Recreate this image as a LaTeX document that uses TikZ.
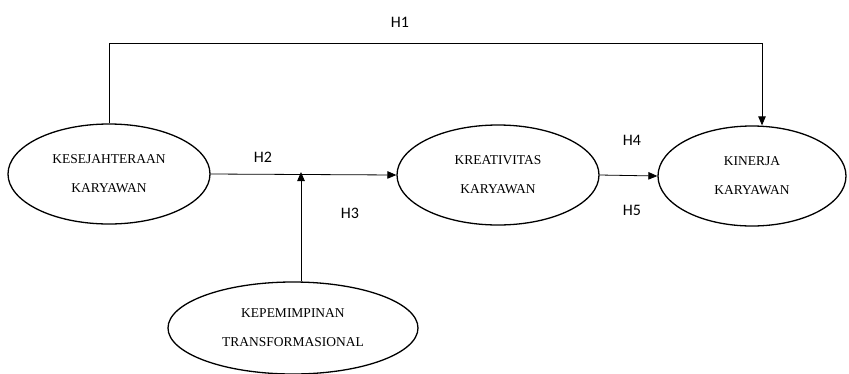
\documentclass[tikz,border=0pt]{standalone}
\usepackage{fontspec}
\setmainfont{Liberation Serif}
\newfontfamily\labfont{Carlito}
\usetikzlibrary{arrows.meta,shapes.geometric}
\begin{document}
\begin{tikzpicture}[x=1pt,y=-1pt,
  var/.style={draw,line width=1.3pt,ellipse,inner sep=0pt,align=center,
    font=\fontsize{13.5}{29}\selectfont},
  conn/.style={line width=0.8pt,-{Triangle[length=9pt,width=7.5pt]}},
  hlab/.style={font=\labfont\fontsize{16}{18}\selectfont}]
\useasboundingbox (0,0) rectangle (849,373);
\node[var,minimum width=202pt,minimum height=100pt] (e1) at (109,174) {KESEJAHTERAAN\\KARYAWAN};
\node[var,minimum width=202pt,minimum height=100pt] (e2) at (498,175) {KREATIVITAS\\KARYAWAN};
\node[var,minimum width=188pt,minimum height=100pt] (e3) at (752,176) {KINERJA\\KARYAWAN};
\node[var,minimum width=250pt,minimum height=92pt] (e4) at (293,328) {KEPEMIMPINAN\\TRANSFORMASIONAL};
\coordinate (h1) at (762,43);
\coordinate (j) at (301,172);
\draw[conn] (e1.north) |- (h1) -- (e3.north -| h1);
\draw[conn] (e1.east) -- (e2.west);
\draw[conn] (e4.north -| j) -- (j);
\draw[conn] (e2.east) -- (e3.west);
\node[hlab] (l1) at (400,22) {H1};
\node[hlab] (l2) at (263,157) {H2};
\node[hlab] (l3) at (350,213) {H3};
\node[hlab] (l4) at (632,140) {H4};
\node[hlab] (l5) at (632,210) {H5};
\end{tikzpicture}
\end{document}
